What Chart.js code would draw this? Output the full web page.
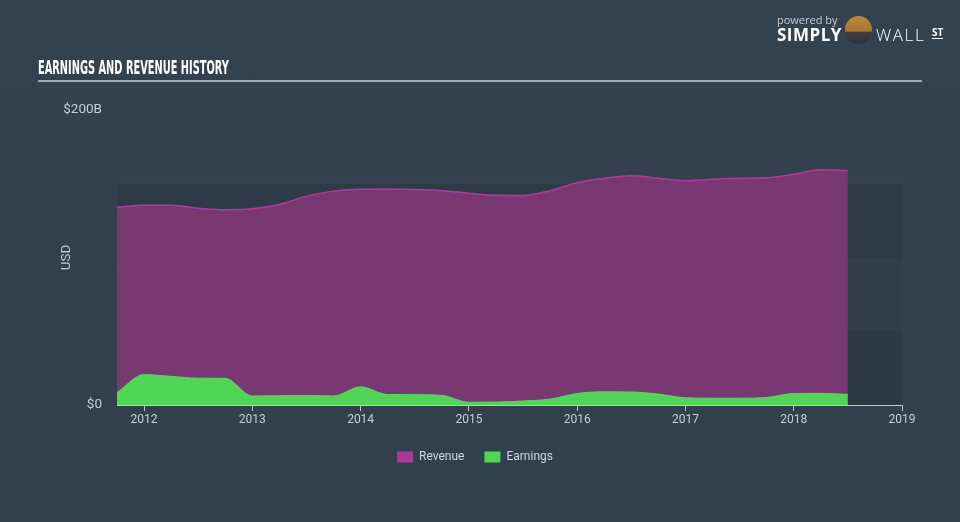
<!DOCTYPE html>
<html>
<head>
<meta charset="utf-8">
<script src="https://cdn.jsdelivr.net/npm/chart.js@4.4.0/dist/chart.umd.min.js"></script>
<style>
  html, body { margin: 0; padding: 0; }
  body {
    width: 960px; height: 522px; overflow: hidden; position: relative;
    background: linear-gradient(180deg, #34424f 0%, #323f4c 100%);
    font-family: Roboto, "Noto Sans", sans-serif;
  }
  #chart { position: absolute; left: 0; top: 0; }
  .title {
    position: absolute; left: 38px; top: 55px;
    color: #ffffff; font-family: "Liberation Sans Narrow", "DejaVu Sans Condensed", sans-serif;
    font-weight: bold; font-size: 20px; line-height: 24px; white-space: nowrap;
    display: inline-block; transform-origin: left top;
  }
  .rule { position: absolute; left: 38px; top: 80px; width: 884px; height: 2px; background: #a2a8b0; }
  .logo { position: absolute; left: 777px; top: 10px; height: 40px; width: 175px; color: #fff; }
  .logo .pb { position: absolute; left: 0; top: 2px; font-size: 11px; color: #c9cdd2; font-family: "Open Sans", sans-serif; }
  .logo .simply { position: absolute; left: 0; top: 13px; font-size: 17px; font-weight: bold; letter-spacing: 0.5px; font-family: "Open Sans", sans-serif; }
  .logo .bull { position: absolute; left: 68px; top: 6px; width: 27px; height: 28px; border-radius: 50%;
    background: linear-gradient(180deg, #b9893a 0%, #a7772f 55%, #3c3f44 56%, #2d3035 100%); }
  .logo .wall { position: absolute; left: 99px; top: 13px; font-size: 17px; font-weight: 300; letter-spacing: 1.6px; font-family: "Open Sans", sans-serif; }
  .logo .st { position: absolute; left: 155px; top: 17px; font-size: 10px; font-weight: bold; border-bottom: 1.5px solid #fff; line-height: 11px; font-family: "Open Sans", sans-serif; }
</style>
</head>
<body>
<canvas id="chart" width="960" height="522"></canvas>
<div class="title" id="title">EARNINGS AND REVENUE HISTORY</div>
<div class="rule"></div>
<div class="logo">
  <span class="pb">powered by</span>
  <span class="simply">SIMPLY</span>
  <span class="bull"></span>
  <span class="wall">WALL</span>
  <span class="st">ST</span>
</div>
<script>
// quarter ends (year-month)
const periods = ['2011-09', '2011-12', '2012-03', '2012-06', '2012-09', '2012-12', '2013-03', '2013-06',
    '2013-09', '2013-12', '2014-03', '2014-06', '2014-09', '2014-12', '2015-03', '2015-06',
    '2015-09', '2015-12', '2016-03', '2016-06', '2016-09', '2016-12', '2017-03', '2017-06',
    '2017-09', '2017-12', '2018-03', '2018-06'];

// $B
const revenue = [134, 135.5, 135.5, 133.4, 132.4, 133, 136, 141.6,
    145, 146.3, 146.4, 146.1, 145.3, 143.6, 142.2, 142.1,
    145.3, 150.7, 153.7, 155.4, 153.7, 152, 153, 153.7,
    154, 156.4, 159.5, 158.8];

const earnings = [8.4, 20.6, 19.4, 18.2, 18.1, 6.1, 6.3, 6.5,
    6.1, 12.3, 7.1, 7, 6.5, 1.9, 2.0, 2.7,
    4.0, 7.8, 8.9, 8.8, 7.4, 4.9, 4.6, 4.6,
    5.1, 7.8, 7.9, 7.2];

const yearTicks = [2012, 2013, 2014, 2015, 2016, 2017, 2018, 2019];
const valueTicks = [0, 200];
const bands = [[0, 50, 'rgba(20,30,40,0.16)'], [50, 100, 'rgba(20,30,40,0.05)'], [100, 150, 'rgba(20,30,40,0.16)']];

function toYear(p) {
    const [y, m] = p.split('-').map(Number);
    return y + m / 12;
}

function points(values) {
    return periods.map((p, i) => ({ x: toYear(p), y: values[i] }));
}

// squeeze the title into its condensed width
const title = document.getElementById('title');
title.style.transform = `scaleX(${191 / title.offsetWidth})`;

const bandPlugin = {
    id: 'bands',
    beforeDatasetsDraw(chart) {
        const { ctx, chartArea, scales } = chart;
        ctx.save();
        bands.forEach(([lo, hi, color]) => {
            const top = scales.y.getPixelForValue(hi);
            const bottom = scales.y.getPixelForValue(lo);
            ctx.fillStyle = color;
            ctx.fillRect(chartArea.left, top, chartArea.right - chartArea.left, bottom - top);
        });
        ctx.restore();
    },
    afterDraw(chart) {
        const { ctx, chartArea } = chart;
        ctx.save();
        ctx.translate(67, (chartArea.top + chartArea.bottom) / 2);
        ctx.rotate(-Math.PI / 2);
        ctx.fillStyle = '#c3c8ce';
        ctx.font = '13.5px Roboto, sans-serif';
        ctx.textAlign = 'center';
        ctx.textBaseline = 'middle';
        ctx.fillText('USD', 0, 0);
        ctx.restore();
    }
};

new Chart(document.getElementById('chart'), {
    type: 'line',
    data: {
        datasets: [{
            label: 'Revenue',
            data: points(revenue),
            borderColor: '#b23a9e',
            backgroundColor: '#7a3873',
            borderWidth: 1.5,
            fill: 'origin',
            pointRadius: 0,
            cubicInterpolationMode: 'monotone',
            order: 2
        }, {
            label: 'Earnings',
            data: points(earnings),
            borderColor: '#55dc59',
            backgroundColor: '#50d655',
            borderWidth: 1,
            fill: 'origin',
            pointRadius: 0,
            cubicInterpolationMode: 'monotone',
            order: 1
        }]
    },
    options: {
        responsive: false,
        animation: false,
        layout: { padding: { top: 110, right: 58, left: 48, bottom: 49 } },
        plugins: {
            tooltip: { enabled: false },
            legend: {
                position: 'bottom',
                labels: {
                    boxWidth: 16,
                    boxHeight: 11,
                    padding: 20,
                    color: '#d3d7db',
                    font: { family: 'Roboto, sans-serif', size: 12 },
                    sort: (a, b) => a.datasetIndex - b.datasetIndex,
                    generateLabels(chart) {
                        const items = Chart.defaults.plugins.legend.labels.generateLabels(chart);
                        const swatch = ['#a93a9c', '#50d655'];
                        items.forEach(it => {
                            it.fillStyle = swatch[it.datasetIndex];
                            it.strokeStyle = swatch[it.datasetIndex];
                            it.lineWidth = 0;
                        });
                        return items;
                    }
                }
            }
        },
        scales: {
            x: {
                type: 'linear',
                min: 2011.75,
                max: 2019,
                afterBuildTicks(scale) { scale.ticks = yearTicks.map(v => ({ value: v })); },
                afterFit(scale) { scale.height = 26; },
                ticks: {
                    color: '#c9ced3',
                    font: { family: 'Roboto, sans-serif', size: 12 },
                    padding: 2,
                    maxRotation: 0,
                    callback: v => String(v)
                },
                grid: { drawOnChartArea: false, drawTicks: true, tickLength: 6, color: '#c2c7cd' },
                border: { display: true, color: '#c2c7cd', width: 1 }
            },
            y: {
                min: 0,
                max: 200,
                afterBuildTicks(scale) { scale.ticks = valueTicks.map(v => ({ value: v })); },
                afterFit(scale) { scale.width = 69; },
                ticks: {
                    color: '#c9ced3',
                    font: { family: 'Roboto, sans-serif', size: 13.5 },
                    padding: 7,
                    callback: v => v === 0 ? '$0' : '$' + v + 'B'
                },
                grid: { display: false },
                border: { display: false }
            }
        }
    },
    plugins: [bandPlugin]
});
</script>
</body>
</html>
